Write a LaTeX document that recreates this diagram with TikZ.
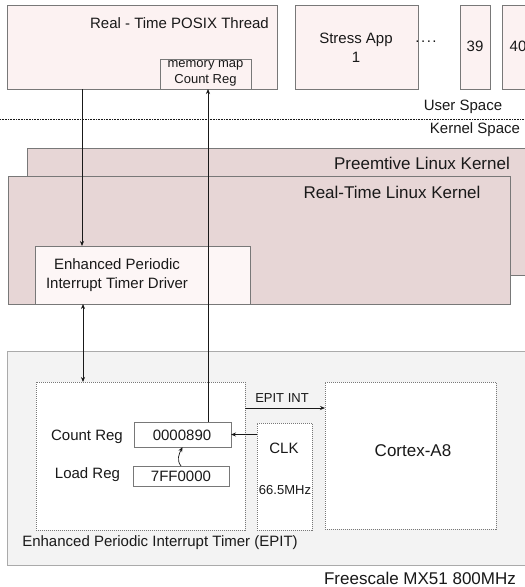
\documentclass[tikz,border=0pt]{standalone}
\usepackage{fontspec}
\setmainfont{Liberation Sans}
\usetikzlibrary{arrows.meta,calc}
\definecolor{userfill}{RGB}{252,242,242}
\definecolor{kernfill}{RGB}{231,214,214}
\definecolor{drvfill}{RGB}{253,246,246}
\definecolor{socfill}{RGB}{243,243,243}
\definecolor{bordc}{RGB}{120,120,120}
\definecolor{socbord}{RGB}{170,170,170}
\definecolor{txtc}{RGB}{25,25,25}
\tikzset{
  box/.style={draw=bordc, line width=0.8pt, anchor=north west, inner sep=0pt, outer sep=0pt},
  dotbox/.style={draw=bordc, fill=white, line width=0.7pt, dash pattern=on 1pt off 1pt, anchor=north west, inner sep=0pt, outer sep=0pt},
  lbl/.style={text=txtc, inner sep=0pt, font=\fontsize{15}{19}\selectfont, align=center},
  lblbig/.style={lbl, font=\fontsize{17}{20}\selectfont},
  lblsm/.style={lbl, font=\fontsize{13}{16}\selectfont},
  arr/.style={draw=txtc, line width=0.7pt, -{Stealth[length=5pt,width=4pt]}},
  darr/.style={draw=txtc, line width=0.7pt, {Stealth[length=5pt,width=4pt]}-{Stealth[length=5pt,width=4pt]}},
  ln/.style={draw=txtc, line width=0.7pt}
}
\begin{document}
\begin{tikzpicture}[x=1pt,y=-1pt]
\clip (0,0) rectangle (525,587);
\fill[white] (0,0) rectangle (525,587);
% user space
\node[box, fill=userfill, minimum width=270pt, minimum height=84pt] (posix) at (7,5) {};
\node[box, fill=userfill, minimum width=91pt, minimum height=30pt] (mm) at (160,59) {};
\node[box, fill=userfill, minimum width=123pt, minimum height=84pt] (stress) at (295,5) {};
\node[box, fill=userfill, minimum width=30pt, minimum height=84pt] (b39) at (460,5) {};
\node[box, fill=userfill, minimum width=40pt, minimum height=84pt] (b40) at (502,5) {};
\node[lbl, anchor=east] (posixt) at (269,23) {Real - Time POSIX Thread};
\node[lblsm] (mmt) at (205.5,73) {memory map\\Count Reg};
\node[lbl] (stresst) at (356,47.5) {Stress App\\1};
\node[lbl, font=\fontsize{15}{19}\selectfont] (dots) at (426,42) {.\hspace{1.5pt}.\hspace{1.5pt}.\hspace{1.5pt}.};
\node[lbl] (t39) at (475,46) {39};
\node[lbl] (t40) at (518,46) {40};
\node[lbl] (us) at (463,107) {User Space};
\coordinate (dl) at (0,119);
\coordinate (dr) at (525,119);
\draw[draw=txtc, line width=0.6pt, dash pattern=on 0.8pt off 0.8pt] (dl) -- (dr);
\node[lbl] (ks) at (475,130) {Kernel Space};
% kernels
\node[box, fill=kernfill, minimum width=520pt, minimum height=127pt] (pre) at (27,148) {};
\node[box, fill=kernfill, minimum width=502pt, minimum height=128pt] (rt) at (8,176) {};
\node[lblbig] (pret) at (422,163) {Preemtive Linux Kernel};
\node[lblbig] (rtt) at (392,192) {Real-Time Linux Kernel};
\node[box, fill=drvfill, minimum width=215pt, minimum height=58pt] (drv) at (35,246) {};
\node[lbl] (drvt) at (117,275.5) {Enhanced Periodic\\Interrupt Timer Driver};
% SoC
\node[draw=socbord, fill=socfill, line width=0.9pt, anchor=north west, inner sep=0pt, outer sep=0pt, minimum width=530pt, minimum height=214pt] (soc) at (7,351) {};
\node[lblbig] (soct) at (420,578) {Freescale MX51 800MHz};
\node[dotbox, minimum width=209pt, minimum height=148pt] (epit) at (36,382) {};
\node[lbl] (epitt) at (160,543) {Enhanced Periodic Interrupt Timer (EPIT)};
\node[box, fill=white, minimum width=97pt, minimum height=25pt] (cnt) at (134,422) {};
\node[box, fill=white, minimum width=96pt, minimum height=20pt] (ld) at (133,466) {};
\node[lbl] (cntv) at (182,435) {0000890};
\node[lbl] (ldv) at (181,476) {7FF0000};
\node[lbl] (cntl) at (87,437) {Count Reg};
\node[lbl] (ldl) at (87.5,475) {Load Reg};
\node[dotbox, minimum width=55pt, minimum height=107pt] (clk) at (257,423) {};
\node[lbl] (clkt) at (284,448) {CLK};
\node[lblsm] (clkf) at (285,490) {66.5MHz};
\node[dotbox, minimum width=171pt, minimum height=147pt] (cpu) at (325,382) {};
\node[lblbig] (cput) at (413,451) {Cortex-A8};
\node[lblsm] (intt) at (282,398) {EPIT INT};
% connectors
\coordinate (ax) at (82,0);
\coordinate (bx) at (83,0);
\coordinate (lx) at (208,0);
\coordinate (iy) at (0,408);
\draw[arr] (posix.south -| ax) -- (drv.north -| ax);
\draw[darr] (drv.south -| bx) -- (epit.north -| bx);
\draw[arr] (cnt.north -| lx) -- (mm.south -| lx);
\draw[arr] (clk.west |- cnt.east) -- (cnt.east);
\draw[arr] (epit.east |- iy) -- (cpu.west |- iy);
\draw[arr] (ld.north) .. controls +(-5,-6) and +(-3,6) .. (cnt.south);
\end{tikzpicture}
\end{document}
